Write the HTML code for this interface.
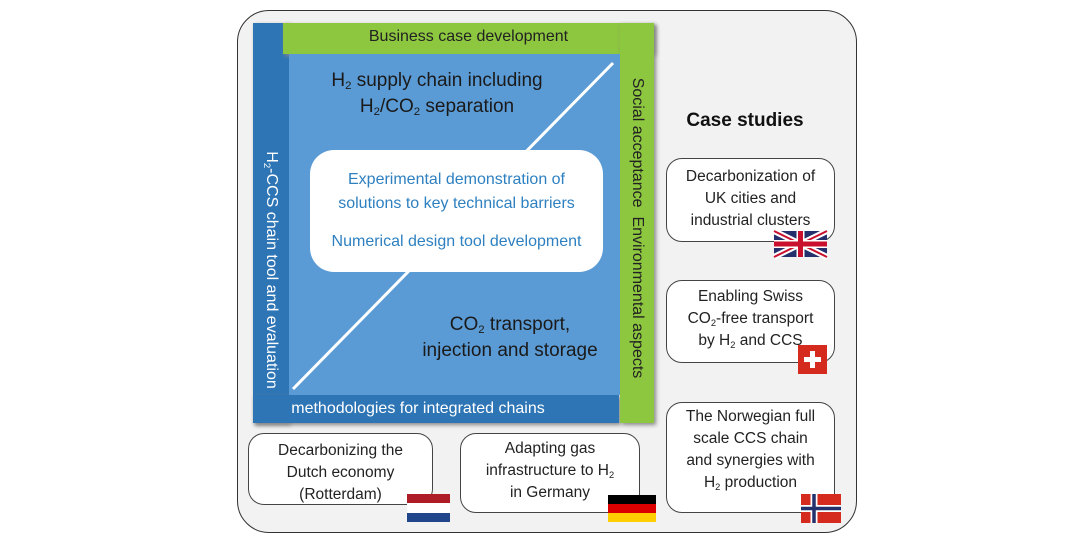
<!DOCTYPE html>
<html><head><meta charset="utf-8"><style>
body{margin:0;width:1080px;height:540px;background:#fff;position:relative;overflow:hidden;font-family:"Liberation Sans","DejaVu Sans",sans-serif}
div{position:absolute;box-sizing:border-box}
.box{background:#fff;border:1.5px solid #444;border-radius:16px;text-align:center;font-size:15.5px;line-height:22px;color:#222}
sub{font-size:60%;vertical-align:-3px;line-height:0}
.t{text-align:center;white-space:nowrap}
</style></head><body>
<div style="left:237px;top:10px;width:620px;height:523px;border:1.5px solid #333;border-radius:32px;background:#f2f2f2"></div>
<div style="left:253px;top:23px;width:36px;height:400px;background:#2e75b6;box-shadow:2px 2px 4px #888"></div>
<div style="left:253px;top:395px;width:366px;height:28px;background:#2e75b6;box-shadow:2px 2px 4px #888"></div>
<div style="left:283px;top:23px;width:371px;height:31px;background:#8dc63f;box-shadow:2px 2px 4px #888"></div>
<div style="left:620px;top:23px;width:34px;height:400px;background:#8dc63f;box-shadow:2px 2px 4px #888"></div>
<div style="left:289px;top:54px;width:331px;height:341px;background:#5b9bd5"></div>
<svg style="position:absolute;left:0;top:0" width="1080" height="540"><line x1="293" y1="389" x2="613" y2="63" stroke="#fff" stroke-width="3"/></svg>
<div class="t" style="left:283px;top:28px;width:371px;font-size:16px;color:#222">Business case development</div>
<div class="t" style="left:253px;top:400px;width:330px;font-size:16px;color:#fff">methodologies for integrated chains</div>
<div class="t" style="left:271px;top:272px;width:0;height:0"><div style="left:-200px;top:-11px;width:400px;transform:rotate(90deg);font-size:16px;color:#fff">H<sub>2</sub>-CCS chain tool and evaluation</div></div>
<div class="t" style="left:637px;top:230px;width:0;height:0"><div style="left:-200px;top:-11px;width:400px;transform:rotate(90deg);font-size:16px;color:#222">Social acceptance&nbsp;&nbsp;Environmental aspects</div></div>
<div class="t" style="left:307px;top:68px;width:260px;font-size:19px;line-height:26px;color:#1a1a1a">H<sub>2</sub> supply chain including<br>H<sub>2</sub>/CO<sub>2</sub> separation</div>
<div class="t" style="left:380px;top:312px;width:260px;font-size:19px;line-height:26px;color:#1a1a1a">CO<sub>2</sub> transport,<br>injection and storage</div>
<div style="left:310px;top:150px;width:293px;height:122px;background:#fff;border-radius:24px;text-align:center;color:#2e80c0;font-size:16px;line-height:24px;padding-top:18px">Experimental demonstration of<br>solutions to key technical barriers<div style="position:static;margin-top:14px">Numerical design tool development</div></div>
<div class="t" style="left:665px;top:110px;width:160px;font-size:19px;font-weight:bold;color:#111">Case studies</div>
<div class="box" style="left:666px;top:158px;width:169px;height:84px;padding-top:7px">Decarbonization of<br>UK cities and<br>industrial clusters</div>
<div class="box" style="left:666px;top:280px;width:169px;height:83px;padding-top:5px">Enabling Swiss<br>CO<sub>2</sub>-free transport<br>by H<sub>2</sub> and CCS</div>
<div class="box" style="left:666px;top:402px;width:169px;height:111px;padding-top:3px">The Norwegian full<br>scale CCS chain<br>and synergies with<br>H<sub>2</sub> production</div>
<div class="box" style="left:248px;top:433px;width:185px;height:72px;padding-top:6px">Decarbonizing the<br>Dutch economy<br>(Rotterdam)</div>
<div class="box" style="left:460px;top:433px;width:180px;height:80px;padding-top:4px">Adapting gas<br>infrastructure to H<sub>2</sub><br>in Germany</div>
<svg style="position:absolute;left:0;top:0" width="1080" height="540">
<rect x="774" y="231" width="53" height="26" fill="#23306b"/>
<path d="M774 231L827 257M827 231L774 257" stroke="#fff" stroke-width="6"/>
<path d="M774 231L827 257M827 231L774 257" stroke="#c8102e" stroke-width="2"/>
<path d="M800.5 231V257M774 244H827" stroke="#fff" stroke-width="8"/>
<path d="M800.5 231V257M774 244H827" stroke="#c8102e" stroke-width="5"/>
<rect x="798" y="345" width="29" height="29" fill="#d52b1e"/>
<path d="M812.5 351V368M804 359.5H821" stroke="#fff" stroke-width="5"/>
<rect x="801" y="494" width="40" height="29" fill="#d52b1e"/>
<path d="M814 494V523M801 508.5H841" stroke="#fff" stroke-width="7"/>
<path d="M814 494V523M801 508.5H841" stroke="#23306b" stroke-width="3.5"/>
<rect x="407" y="494" width="43" height="9" fill="#ae1c28"/>
<rect x="407" y="503" width="43" height="10" fill="#fff"/>
<rect x="407" y="513" width="43" height="9" fill="#21468b"/>
<rect x="608" y="495" width="48" height="9" fill="#000"/>
<rect x="608" y="504" width="48" height="9" fill="#dd0000"/>
<rect x="608" y="513" width="48" height="9" fill="#ffce00"/>
</svg>
</body></html>
